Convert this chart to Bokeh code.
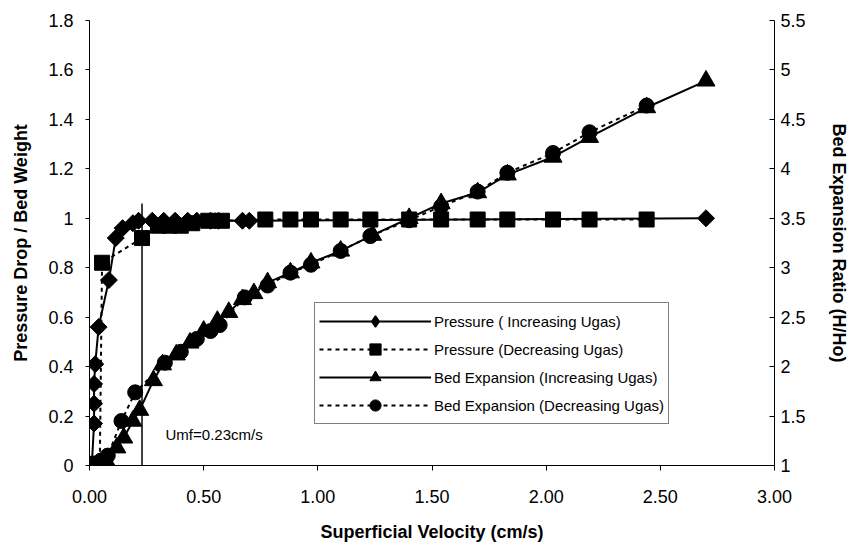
import math

from bokeh.core.properties import value
from bokeh.embed import file_html
from bokeh.models import (FixedTicker, Legend, LegendItem, LinearAxis,
                          NumeralTickFormatter, Range1d)
from bokeh.plotting import figure
from bokeh.resources import INLINE

# Pressure drop / bed weight, increasing gas velocity
p_inc_x = [0.01, 0.02, 0.02, 0.02, 0.025, 0.04, 0.085, 0.115, 0.145, 0.19,
           0.215, 0.275, 0.325, 0.375, 0.43, 0.47, 0.53, 0.565, 0.67, 0.70, 2.70]
p_inc_y = [0.00, 0.17, 0.25, 0.33, 0.41, 0.56, 0.75, 0.92, 0.96, 0.98,
           0.99, 0.99, 0.99, 0.99, 0.99, 0.99, 0.99, 0.99, 0.99, 0.99, 1.00]

# Pressure drop / bed weight, decreasing gas velocity
p_dec_x = [0.00, 0.02, 0.045, 0.055, 0.23, 0.30, 0.35, 0.40, 0.45, 0.52, 0.58,
           0.77, 0.88, 0.97, 1.10, 1.23, 1.40, 1.54, 1.70, 1.83, 2.03, 2.19, 2.44]
p_dec_y = [0.00, 0.00, 0.00, 0.82, 0.92, 0.97, 0.97, 0.97, 0.98, 0.99, 0.99,
           0.995, 0.995, 0.995, 0.995, 0.995, 0.995, 0.995, 0.995, 0.995, 0.995, 0.995, 0.995]

# Bed expansion ratio H/Ho, increasing gas velocity
b_inc_x = [0.00, 0.04, 0.08, 0.12, 0.15, 0.19, 0.22, 0.28, 0.32, 0.38, 0.44,
           0.50, 0.56, 0.61, 0.67, 0.72, 0.78, 0.88, 0.97, 1.10, 1.24, 1.40,
           1.54, 1.70, 1.83, 2.03, 2.19, 2.44, 2.70]
b_inc_y = [1.00, 1.00, 1.02, 1.18, 1.28, 1.45, 1.56, 1.86, 2.02, 2.12, 2.24,
           2.36, 2.46, 2.55, 2.68, 2.74, 2.85, 2.95, 3.05, 3.17, 3.33, 3.50,
           3.65, 3.76, 3.94, 4.12, 4.32, 4.62, 4.89]

# Bed expansion ratio H/Ho, decreasing gas velocity
b_dec_x = [0.00, 0.02, 0.05, 0.08, 0.14, 0.20, 0.33, 0.40, 0.47, 0.53, 0.57,
           0.68, 0.78, 0.88, 0.97, 1.10, 1.23, 1.40, 1.54, 1.70, 1.83, 2.03,
           2.19, 2.44]
b_dec_y = [1.00, 1.02, 1.05, 1.10, 1.45, 1.74, 2.04, 2.15, 2.28, 2.36, 2.42,
           2.70, 2.82, 2.95, 3.03, 3.17, 3.32, 3.48, 3.62, 3.77, 3.96, 4.16,
           4.37, 4.64]

# Minimum fluidisation velocity marker
umf = 0.23
umf_top = 1.06
umf_label = "Umf=0.23cm/s"

x_ticks = [0.0, 0.5, 1.0, 1.5, 2.0, 2.5, 3.0]
y_ticks = [0.0, 0.2, 0.4, 0.6, 0.8, 1.0, 1.2, 1.4, 1.6, 1.8]
y2_ticks = [1.0, 1.5, 2.0, 2.5, 3.0, 3.5, 4.0, 4.5, 5.0, 5.5]

series_labels = [
    "Pressure ( Increasing Ugas)",
    "Pressure (Decreasing Ugas)",
    "Bed Expansion (Increasing Ugas)",
    "Bed Expansion (Decreasing Ugas)",
]

FONT = "Liberation Sans"
INK = "black"

p = figure(
    frame_width=685, frame_height=445,
    min_border_left=89, min_border_right=82,
    min_border_top=20, min_border_bottom=85,
    x_range=Range1d(0, 3), y_range=Range1d(0, 1.8),
    output_backend="svg", toolbar_location=None,
    background_fill_color="white", border_fill_color="white",
)
p.outline_line_color = None
p.grid.visible = False
p.extra_y_ranges = {"bed": Range1d(1, 5.5)}


def style_axis(ax, ticks, fmt):
    ax.ticker = FixedTicker(ticks=ticks)
    ax.formatter = NumeralTickFormatter(format=fmt)
    ax.minor_tick_line_color = None
    ax.axis_line_color = INK
    ax.axis_line_width = 1
    ax.major_tick_line_color = INK
    ax.major_label_text_font = FONT
    ax.major_label_text_font_size = "18px"
    ax.major_label_text_color = INK
    ax.axis_label_text_font = FONT
    ax.axis_label_text_font_style = "bold"
    ax.axis_label_text_font_size = "18px"
    ax.axis_label_text_color = INK


xa = p.xaxis[0]
style_axis(xa, x_ticks, "0.00")
xa.axis_label = "Superficial Velocity (cm/s)"
xa.major_tick_in = 0
xa.major_tick_out = 5
xa.major_label_standoff = 19
xa.axis_label_standoff = 16

ya = p.yaxis[0]
style_axis(ya, y_ticks, "0.[0]")
ya.axis_label = "Pressure Drop / Bed Weight"
ya.major_tick_in = 0
ya.major_tick_out = 4
ya.major_label_standoff = 12
ya.axis_label_standoff = 14

ya2 = LinearAxis(y_range_name="bed")
style_axis(ya2, y2_ticks, "0.[0]")
ya2.axis_label = "Bed Expansion Ratio (H/Ho)"
ya2.major_tick_in = 5
ya2.major_tick_out = 0
ya2.major_label_standoff = 6
ya2.axis_label_standoff = 20
p.add_layout(ya2, "right")

# Umf vertical marker and its label
p.segment(x0=[umf], y0=[0], x1=[umf], y1=[umf_top], line_color=INK, line_width=1.5)
p.text(x=[0.333], y=[0.125], text=[umf_label], text_font=value(FONT),
       text_font_size="15px", text_baseline="middle", text_align="left",
       text_color=INK)

# Pressure, increasing: a plain diamond layer (used as the legend swatch,
# since legends ignore marker angle) under squares turned 45 degrees
l1 = p.line(p_inc_x, p_inc_y, line_color=INK, line_width=2)
k1 = p.scatter(p_inc_x, p_inc_y, marker="diamond", size=14,
               fill_color=INK, line_color=INK, line_width=1.5)
m1 = p.scatter(p_inc_x, p_inc_y, marker="square", angle=math.pi / 4, size=12,
               fill_color=INK, line_color=INK)

# Pressure, decreasing
l2 = p.line(p_dec_x, p_dec_y, line_color=INK, line_width=2, line_dash="4 4")
m2 = p.scatter(p_dec_x, p_dec_y, marker="square", size=15,
               fill_color=INK, line_color=INK)

# Bed expansion, increasing
l3 = p.line(b_inc_x, b_inc_y, line_color=INK, line_width=2, y_range_name="bed")
m3 = p.scatter(b_inc_x, b_inc_y, marker="triangle", size=18,
               fill_color=INK, line_color=INK, y_range_name="bed")

# Bed expansion, decreasing
l4 = p.line(b_dec_x, b_dec_y, line_color=INK, line_width=2, line_dash="4 4",
            y_range_name="bed")
m4 = p.scatter(b_dec_x, b_dec_y, marker="circle", size=15,
               fill_color=INK, line_color=INK, y_range_name="bed")

legend = Legend(
    items=[
        LegendItem(label=series_labels[0], renderers=[l1, k1]),
        LegendItem(label=series_labels[1], renderers=[l2, m2]),
        LegendItem(label=series_labels[2], renderers=[l3, m3]),
        LegendItem(label=series_labels[3], renderers=[l4, m4]),
    ],
    location=(225, 41),
    orientation="vertical",
    glyph_width=112, glyph_height=28, label_height=28,
    label_standoff=3, spacing=0, padding=4, margin=0,
    label_text_font=FONT, label_text_font_size="15px", label_text_color=INK,
    border_line_color=INK, border_line_width=1,
    background_fill_color="white", background_fill_alpha=1.0,
)
p.add_layout(legend, "center")

open("out.html", "w").write(file_html(p, INLINE))
